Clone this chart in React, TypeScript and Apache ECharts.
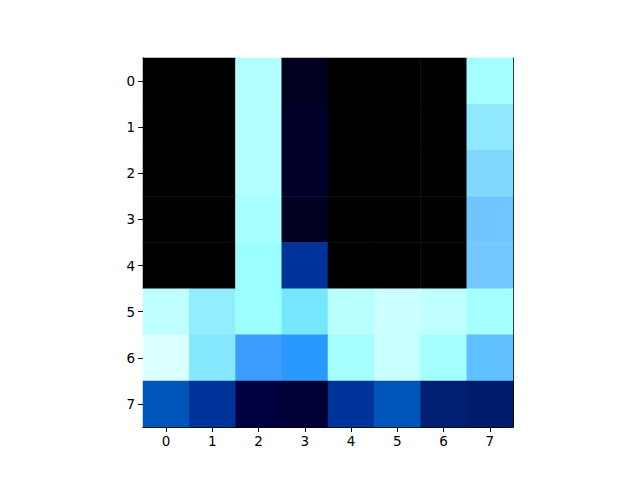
import React, { useEffect, useRef } from "react";
import * as echarts from "echarts";

const xLabels = ["0", "1", "2", "3", "4", "5", "6", "7"];
const yLabels = ["0", "1", "2", "3", "4", "5", "6", "7"];

// Cell values, row by row (row 0 at top)
const row0 = [0, 0, 0.85, 0.05, 0, 0, 0, 0.8];
const row1 = [0, 0, 0.85, 0.065, 0, 0, 0, 0.7];
const row2 = [0, 0, 0.85, 0.065, 0, 0, 0, 0.6];
const row3 = [0, 0, 0.81, 0.05, 0, 0, 0, 0.55];
const row4 = [0, 0, 0.75, 0.2, 0, 0, 0, 0.56];
const row5 = [0.9, 0.71, 0.75, 0.65, 0.87, 0.95, 0.9, 0.8];
const row6 = [1.0, 0.68, 0.45, 0.4, 0.8, 0.93, 0.8, 0.5];
const row7 = [0.3, 0.2, 0.1, 0.085, 0.2, 0.3, 0.16, 0.15];
const rows = [row0, row1, row2, row3, row4, row5, row6, row7];

const colorStops = [
  "#000000",
  "#000020",
  "#00003f",
  "#001a6c",
  "#003399",
  "#0044aa",
  "#0055bb",
  "#1577dd",
  "#2a99ff",
  "#3d9cff",
  "#60c0ff",
  "#70c4ff",
  "#80d8ff",
  "#75e8ff",
  "#8fe8ff",
  "#9bffff",
  "#a5ffff",
  "#b3ffff",
  "#c0ffff",
  "#ccffff",
  "#dcffff",
];

export default function App() {
  const ref = useRef<HTMLDivElement>(null);
  useEffect(() => {
    if (!ref.current) return;
    const chart = echarts.init(ref.current, undefined, { renderer: "svg" });
    const data: number[][] = [];
    rows.forEach((r, yi) => r.forEach((v, xi) => data.push([xi, yi, v])));
    const font = "DejaVu Sans";
    chart.setOption({
      animation: false,
      backgroundColor: "#ffffff",
      grid: { left: 143, top: 58, width: 370, height: 369 },
      visualMap: {
        show: false,
        type: "continuous",
        min: 0,
        max: 1,
        dimension: 2,
        inRange: { color: colorStops },
      },
      xAxis: [
        {
          type: "category",
          data: xLabels,
          position: "bottom",
          axisLine: { show: true, lineStyle: { color: "#000", width: 1 } },
          axisTick: { show: true, alignWithLabel: true, length: 5, lineStyle: { color: "#000" } },
          axisLabel: { color: "#000", fontSize: 13.5, fontFamily: font, margin: 7 },
          splitLine: { show: false },
        },
        {
          type: "category",
          data: xLabels,
          position: "top",
          axisLine: { show: true, lineStyle: { color: "#000", width: 1 } },
          axisTick: { show: false },
          axisLabel: { show: false },
        },
      ],
      yAxis: [
        {
          type: "category",
          data: yLabels,
          inverse: true,
          position: "left",
          axisLine: { show: true, lineStyle: { color: "#000", width: 1 } },
          axisTick: { show: true, alignWithLabel: true, length: 5, lineStyle: { color: "#000" } },
          axisLabel: { color: "#000", fontSize: 13.5, fontFamily: font, margin: 8 },
          splitLine: { show: false },
        },
        {
          type: "category",
          data: yLabels,
          inverse: true,
          position: "right",
          axisLine: { show: true, lineStyle: { color: "#000", width: 1 } },
          axisTick: { show: false },
          axisLabel: { show: false },
        },
      ],
      series: [
        {
          type: "heatmap",
          data,
          xAxisIndex: 0,
          yAxisIndex: 0,
          itemStyle: { borderWidth: 0 },
          emphasis: { disabled: true },
        },
      ],
    });
    return () => chart.dispose();
  }, []);
  return <div ref={ref} style={{ width: 640, height: 480, position: "absolute", left: 0, top: 0 }} />;
}
